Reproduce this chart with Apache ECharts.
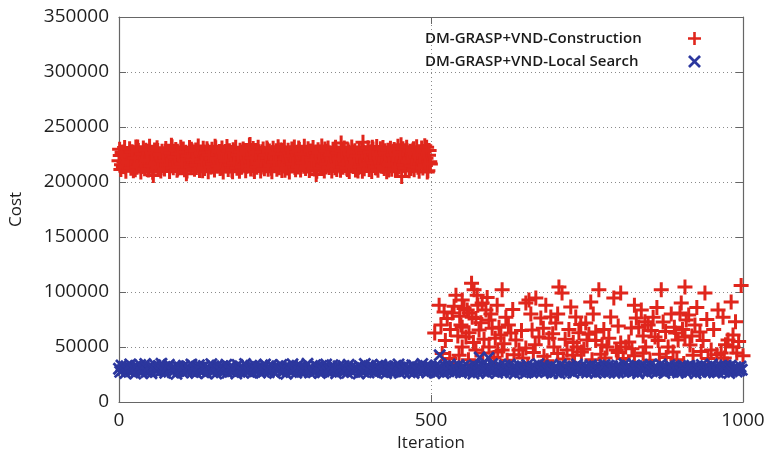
<!DOCTYPE html>
<html>
<head>
<meta charset="utf-8">
<script src="https://cdn.jsdelivr.net/npm/echarts@6/dist/echarts.min.js"></script>
<style>
  html, body { margin: 0; padding: 0; background: #ffffff; }
  #chart { width: 770px; height: 457px; }
</style>
</head>
<body>
<div id="chart"></div>
<script>
// Series names
const seriesNames = ['DM-GRASP+VND-Construction', 'DM-GRASP+VND-Local Search'];

// Construction cost on even iterations 0, 2, ..., 498
const constructionEven = [
  219400, 224100, 215600, 227300, 218200, 213900, 222700, 225800, 216700, 220300,
  214800, 226900, 221500, 211200, 218900, 231800, 217300, 223600, 214200, 220900,
  225400, 216300, 219700, 227900, 213500, 222400, 218000, 208900, 226100, 221100,
  217100, 228600, 220600, 215000, 224500, 218700, 212800, 222200, 227000, 216900,
  220700, 214600, 233500, 219100, 223400, 216000, 225200, 211900, 221800, 218400,
  226800, 214100, 222900, 219300, 207600, 225900, 217000, 220800, 229700, 215400,
  224300, 219900, 213100, 223300, 217600, 226400, 221300, 210200, 219800, 225100,
  215700, 228100, 218600, 222100, 213800, 224900, 217800, 232600, 214700, 222500,
  220100, 212300, 226200, 216600, 221000, 227700, 217900, 223900, 215200, 219500,
  225600, 209400, 220900, 227400, 216200, 222600, 218300, 228900, 213300, 224000,
  218000, 221700, 214400, 225700, 219600, 234200, 216400, 224600, 211600, 220200,
  223200, 215900, 227600, 217500, 220500, 225000, 213600, 223700, 218800, 229300,
  216100, 222000, 212600, 226500, 217700, 222800, 228400, 214900, 219200, 224800,
  216800, 228800, 220000, 210700, 223100, 218500, 225500, 215300, 221900, 226700,
  217200, 213200, 224200, 221200, 231000, 215800, 219700, 226000, 214300, 222300,
  224400, 218100, 227800, 212000, 221400, 216500, 225300, 220400, 206800, 223500,
  218900, 227100, 214900, 223800, 219300, 230100, 213700, 222100, 217400, 226300,
  220600, 216000, 224700, 212900, 227500, 218300, 222900, 214500, 235400, 219000,
  225700, 217000, 221600, 211400, 227200, 217600, 223800, 220000, 215100, 228300,
  218600, 223000, 213400, 225800, 220900, 209800, 227300, 216300, 222400, 218100,
  226400, 214800, 220300, 231600, 217200, 224300, 212700, 221800, 226900, 215600,
  219100, 224900, 214100, 228400, 218700, 222100, 210900, 225400, 216700, 221300,
  227900, 217300, 223100, 213000, 225900, 219600, 233800, 215300, 223600, 220500,
  215500, 227000, 218300, 221900, 212200, 224700, 230300, 216600, 220800, 225600,
  214000, 222800, 219400, 227600, 217100, 232900, 221700, 209100, 224300, 218500
];

// Construction cost on odd iterations 1, 3, ..., 499
const constructionOdd = [
  229800, 211400, 226900, 214200, 231300, 209700, 224100, 217800, 230200, 212600,
  227400, 210300, 221700, 231900, 213300, 228600, 215900, 209200, 225300, 230800,
  212000, 228900, 219600, 210900, 232400, 214700, 226300, 205900, 229200, 216800,
  231100, 213100, 224900, 210100, 228000, 218900, 211800, 230500, 215400, 227800,
  209500, 226100, 232000, 212900, 222600, 229500, 210600, 225700, 214000, 231600,
  216500, 230000, 211200, 227100, 209900, 223800, 231400, 213800, 228300, 220200,
  211600, 229100, 215200, 232700, 210400, 225900, 218400, 230700, 212300, 226600,
  230300, 209300, 224400, 213600, 229700, 216100, 211000, 231200, 221300, 214800,
  227700, 212800, 230900, 209000, 226400, 219400, 232200, 211300, 228500, 215700,
  210700, 229300, 217100, 231700, 212500, 224700, 209800, 227200, 213900, 230100,
  225800, 210200, 228700, 214500, 233300, 211900, 222000, 230400, 209600, 226900,
  213400, 231500, 216900, 210000, 227600, 229900, 212100, 224300, 231000, 211500,
  228200, 214900, 209400, 230600, 218000, 226000, 211700, 232100, 213000, 229000,
  210500, 225600, 231800, 215500, 212700, 228800, 209100, 223600, 230000, 216200,
  231900, 211100, 227000, 213700, 229600, 210800, 225200, 217400, 232500, 212200,
  214600, 230200, 210400, 228100, 219900, 231300, 211800, 226500, 209700, 229400,
  226800, 212400, 232800, 214300, 210000, 227900, 216700, 230900, 213200, 224600,
  209900, 229800, 215100, 231500, 211400, 226200, 220800, 210600, 228400, 213500,
  230800, 216400, 212600, 229200, 209500, 225400, 231900, 214100, 227300, 211000,
  223900, 210100, 230500, 213800, 228600, 236100, 212000, 226700, 215800, 231100,
  211300, 227500, 209600, 229900, 217500, 213100, 232300, 210700, 225100, 230200,
  214400, 231400, 212200, 226300, 209300, 228900, 216000, 230700, 211600, 224800,
  229500, 210900, 225000, 232600, 213700, 227200, 204900, 230300, 215300, 212900,
  231600, 218600, 210200, 228000, 214700, 229100, 211200, 226000, 232000, 213300,
  209800, 224500, 230800, 212800, 227700, 215000, 231500, 210300, 228700, 216300
];

// Construction cost after iteration 500: [iteration, cost]
const constructionLate = [
  [506, 62700], [513, 88000], [521, 81800], [526, 76000], [534, 81000], [540, 97000],
  [550, 92700], [565, 108000], [569, 102000], [574, 97000], [558, 83600], [566, 77000],
  [582, 90000], [588, 83600], [593, 74500], [550, 68000], [556, 59000], [577, 65500],
  [598, 67000], [614, 102000], [620, 77000], [612, 61000], [628, 62700], [550, 50000],
  [572, 47300], [593, 50000], [614, 47300], [636, 56400], [652, 90000], [641, 47300],
  [657, 92700], [668, 94500], [705, 104500], [710, 99000], [676, 76400], [692, 77300],
  [700, 71800], [724, 86400], [732, 77300], [662, 65500], [673, 59000], [689, 58000],
  [697, 50000], [718, 47300], [734, 50000], [750, 56400], [756, 91000], [769, 102000],
  [748, 71800], [764, 63600], [788, 77300], [782, 50000], [793, 94500], [804, 99000],
  [797, 47300], [812, 50000], [774, 51800], [869, 102000], [907, 104500], [939, 99000],
  [997, 106000], [981, 91000], [960, 83600], [901, 90000], [899, 81000], [909, 74500],
  [837, 83600], [829, 76400], [821, 67300], [848, 70000], [872, 72700], [923, 70000],
  [931, 63600], [976, 56400], [984, 61000], [859, 59000], [880, 50000], [896, 56400],
  [949, 47300], [965, 44500], [844, 50000], [915, 51800], [817, 54500], [548, 70000],
  [609, 68000], [740, 70500], [753, 61500], [804, 53600], [833, 68000], [853, 65000],
  [864, 56000], [892, 62700], [913, 79000], [907, 59000], [936, 56000], [984, 50000],
  [561, 81000], [572, 76000], [652, 49000], [822, 48500], [764, 56000],
  [516, 70000], [523, 56000], [531, 66000], [537, 87000], [543, 60000], [546, 78000],
  [553, 85000], [561, 63000], [568, 54000], [575, 88000], [580, 72000], [585, 57000],
  [590, 95000], [596, 80000], [603, 58000], [606, 88000], [617, 53000], [624, 70000],
  [631, 84000], [645, 65000], [660, 80000], [667, 52000], [680, 67000], [684, 88000],
  [695, 62000], [703, 80000], [715, 57000], [721, 66000], [728, 54000], [737, 63000],
  [745, 48000], [760, 80000], [777, 66000], [785, 58000], [800, 69000], [826, 88000],
  [840, 60000], [843, 73000], [856, 77000], [862, 86000], [876, 64000], [885, 80000],
  [890, 68000], [903, 66000], [918, 60000], [926, 86000], [942, 75000], [953, 66000],
  [968, 77000], [972, 52000], [988, 73000], [993, 55000],
  [518, 44000], [530, 39500], [545, 42500], [560, 38500], [583, 44500], [601, 40500],
  [607, 45500], [622, 38000], [633, 43000], [647, 40000], [664, 45000], [681, 41500],
  [686, 37500], [703, 44000], [712, 39000], [727, 42500], [741, 45500], [758, 38500],
  [772, 43500], [779, 40000], [800, 45000], [808, 39500], [826, 42000], [840, 44500],
  [851, 38000], [866, 43500], [877, 40500], [888, 45500], [894, 38500], [920, 42500],
  [933, 46000], [944, 39500], [958, 43000], [970, 40000], [990, 44500], [1000, 42000],
  [538, 35000], [596, 34000], [655, 33500], [730, 35500], [810, 34000], [905, 35000],
  [975, 34500]
];

// Local search cost on even iterations 0, 2, ..., 998
const localSearchCost = [
  30200, 27400, 33100, 29000, 31800, 26300, 32400, 28700, 30900, 34200,
  27900, 31300, 29600, 25800, 32900, 30500, 28100, 33600, 26800, 31000,
  29300, 34500, 27200, 30700, 32200, 28400, 26100, 31600, 29900, 33300,
  28000, 30100, 32700, 27600, 34800, 29200, 31200, 26600, 30400, 32000,
  33800, 28900, 30600, 27000, 31900, 29500, 25600, 32500, 28300, 31400,
  30000, 26900, 33000, 29700, 27800, 32300, 30800, 28600, 34000, 27300,
  31700, 29100, 26400, 30300, 33500, 28200, 31100, 27700, 32800, 29800,
  26200, 32100, 30600, 28800, 34400, 27100, 31500, 29400, 25900, 33200,
  29000, 31800, 27500, 32600, 30200, 28500, 33900, 26700, 30900, 28100,
  32400, 27900, 31000, 29600, 26000, 33700, 30100, 28400, 31600, 27200,
  30700, 34600, 28000, 31300, 27400, 29900, 32900, 26500, 30400, 33100,
  28700, 31900, 29300, 26800, 32200, 30000, 27600, 34100, 29100, 31200,
  27000, 30500, 33400, 28300, 31700, 26300, 29700, 32600, 28900, 30300,
  33600, 27800, 30800, 29200, 25700, 32000, 28600, 31400, 27300, 34300,
  29500, 31100, 26600, 33000, 30600, 28100, 32300, 27500, 30000, 31800,
  28200, 34700, 29800, 26900, 31500, 30200, 27100, 33300, 28800, 32100,
  30900, 26400, 32700, 29400, 28000, 31000, 34000, 27700, 30500, 29000,
  27600, 33500, 30100, 31600, 26200, 29600, 32400, 28500, 31300, 27900,
  32800, 28300, 30700, 26700, 33800, 29300, 31900, 27200, 30300, 28700,
  31200, 29900, 25900, 32500, 28100, 30800, 27400, 34500, 29100, 31700,
  26800, 30400, 33200, 28600, 31100, 27000, 29700, 32900, 30000, 28400,
  33900, 27500, 31400, 29200, 26100, 32200, 30600, 28000, 31800, 27300,
  29600, 32600, 28200, 30900, 34200, 26500, 31000, 29400, 27800, 33000,
  30200, 28800, 31600, 27100, 29800, 33400, 26300, 32000, 30500, 28500,
  27700, 31300, 29000, 34600, 28300, 30700, 32700, 26900, 31900, 29500,
  31500, 28100, 30300, 26600, 33100, 29300, 27400, 32300, 30800, 28900,
  26200, 32800, 29900, 31200, 27900, 34100, 30100, 28400, 31700, 27200,
  30600, 28700, 33600, 29100, 26800, 31400, 32500, 27600, 30000, 28200,
  32100, 27300, 30400, 29700, 25800, 33300, 28600, 31000, 27000, 31900,
  29200, 33700, 28000, 30900, 32200, 26400, 29600, 31500, 28800, 34400,
  27800, 30200, 31800, 26700, 29400, 32900, 28300, 30700, 27500, 33200,
  31100, 28500, 29900, 34000, 27100, 30500, 32400, 26000, 31300, 29000,
  28900, 32700, 27700, 30100, 31600, 29300, 26600, 33500, 28100, 30800,
  30300, 26900, 32000, 28700, 31200, 27400, 34300, 29500, 30600, 27900,
  33000, 29800, 27200, 31700, 28400, 30000, 32600, 26300, 29100, 31400,
  27600, 31000, 29700, 26200, 33800, 28600, 30400, 32300, 27000, 30900,
  29400, 32800, 28000, 30700, 26500, 31500, 29000, 34100, 28300, 31100,
  31900, 27300, 30200, 29600, 32500, 26800, 30500, 28800, 33400, 27800,
  28500, 31300, 26400, 32100, 29900, 27500, 31800, 30100, 28200, 33600,
  30800, 28100, 33100, 27100, 30300, 32700, 29200, 26700, 31600, 29500,
  26900, 32200, 29800, 31000, 27700, 34500, 28400, 30600, 32900, 28000,
  31400, 29100, 27400, 33300, 30000, 28700, 26100, 31900, 29600, 32400,
  28300, 30900, 32600, 26600, 31200, 29400, 33900, 27900, 30400, 28900,
  32000, 27200, 30700, 28600, 34200, 29700, 31100, 26300, 30100, 31800,
  29000, 33500, 28200, 31500, 27600, 30200, 32300, 28800, 26800, 31300,
  27400, 30600, 33000, 29300, 31700, 26500, 30000, 32800, 28500, 29800,
  31600, 28900, 26200, 32500, 29500, 30800, 27300, 33700, 30300, 28100,
  30000, 32100, 27800, 31100, 28400, 34000, 29200, 26900, 31900, 29600,
  27100, 30500, 32700, 28700, 30900, 27500, 33200, 29900, 31400, 26400,
  32900, 28000, 30100, 29400, 31600, 27700, 30700, 28600, 32200, 29300
];

// A few local search results that stay above the main band
const localSearchHigh = [[514, 42500], [578, 40500], [592, 40200]];

// Axis ticks
const xTicks = { min: 0, max: 1000, interval: 500 };
const yTicks = { min: 0, max: 350000, interval: 50000 };

const RED = '#e0261c';
const BLUE = '#2c379e';
const PLUS = 'path://M-1.4,-7L1.4,-7L1.4,-1.4L7,-1.4L7,1.4L1.4,1.4L1.4,7L-1.4,7L-1.4,1.4L-7,1.4L-7,-1.4L-1.4,-1.4Z';
const CROSS = 'path://M-7,-4.9L-4.9,-7L0,-2.1L4.9,-7L7,-4.9L2.1,0L7,4.9L4.9,7L0,2.1L-4.9,7L-7,4.9L-2.1,0Z';

const constructionData = []
  .concat(constructionEven.map((c, i) => [2 * i, c]))
  .concat(constructionOdd.map((c, i) => [2 * i + 1, c]))
  .concat(constructionLate);
const localSearchData = localSearchCost.map((c, i) => [2 * i, c]).concat(localSearchHigh);

const chart = echarts.init(document.getElementById('chart'), null, { renderer: 'canvas' });

const frameColor = '#666666';
const labelFont = { fontFamily: 'Open Sans', fontSize: 19, fontWeight: 500, color: '#1e1e1e' };
const gridLine = { show: true, lineStyle: { color: '#8a8a8a', type: [1, 3], width: 1 } };
const plainNumber = v => String(v);

chart.setOption({
  animation: false,
  backgroundColor: '#ffffff',
  grid: { left: 116, right: 27, top: 17, bottom: 55, containLabel: false },
  legend: {
    orient: 'vertical',
    left: 425,
    top: 31,
    padding: 0,
    align: 'right',
    itemWidth: 13,
    itemHeight: 13,
    itemGap: 8,
    formatter: name => '{t|' + name + '}',
    textStyle: {
      rich: {
        t: { fontFamily: 'Open Sans', fontWeight: 600, fontSize: 15, color: '#1a1a1a', width: 258, align: 'left' }
      }
    },
    data: seriesNames
  },
  xAxis: [
    {
      type: 'value', position: 'bottom',
      min: xTicks.min, max: xTicks.max, interval: xTicks.interval,
      name: 'Iteration', nameLocation: 'middle', nameGap: 31,
      nameTextStyle: { fontFamily: 'Open Sans', fontSize: 17, color: '#1e1e1e' },
      axisLine: { show: true, onZero: false, lineStyle: { color: frameColor, width: 1.2 } },
      axisTick: { show: true, inside: true, length: 7, lineStyle: { color: frameColor } },
      axisLabel: Object.assign({ margin: 9, formatter: plainNumber }, labelFont),
      splitLine: gridLine
    },
    {
      type: 'value', position: 'top',
      min: xTicks.min, max: xTicks.max, interval: xTicks.interval,
      axisLine: { show: true, onZero: false, lineStyle: { color: frameColor, width: 1.2 } },
      axisTick: { show: true, inside: true, length: 7, lineStyle: { color: frameColor } },
      axisLabel: { show: false },
      splitLine: { show: false }
    }
  ],
  yAxis: [
    {
      type: 'value', position: 'left',
      min: yTicks.min, max: yTicks.max, interval: yTicks.interval,
      name: 'Cost', nameLocation: 'middle', nameGap: 94, nameRotate: 90,
      nameTextStyle: { fontFamily: 'Open Sans', fontSize: 17, color: '#1e1e1e' },
      axisLine: { show: true, onZero: false, lineStyle: { color: frameColor, width: 1.2 } },
      axisTick: { show: true, inside: true, length: 7, lineStyle: { color: frameColor } },
      axisLabel: Object.assign({ margin: 10, formatter: plainNumber }, labelFont),
      splitLine: gridLine
    },
    {
      type: 'value', position: 'right',
      min: yTicks.min, max: yTicks.max, interval: yTicks.interval,
      axisLine: { show: true, onZero: false, lineStyle: { color: frameColor, width: 1.2 } },
      axisTick: { show: true, inside: true, length: 7, lineStyle: { color: frameColor } },
      axisLabel: { show: false },
      splitLine: { show: false }
    }
  ],
  series: [
    {
      name: seriesNames[0],
      type: 'scatter',
      xAxisIndex: 0, yAxisIndex: 0,
      symbol: PLUS,
      symbolSize: 15,
      clip: false,
      itemStyle: { color: RED, opacity: 1 },
      data: constructionData,
      z: 2
    },
    {
      name: seriesNames[1],
      type: 'scatter',
      xAxisIndex: 0, yAxisIndex: 0,
      symbol: CROSS,
      symbolSize: 13,
      clip: false,
      itemStyle: { color: BLUE, opacity: 1 },
      data: localSearchData,
      z: 3
    }
  ]
});
</script>
</body>
</html>
